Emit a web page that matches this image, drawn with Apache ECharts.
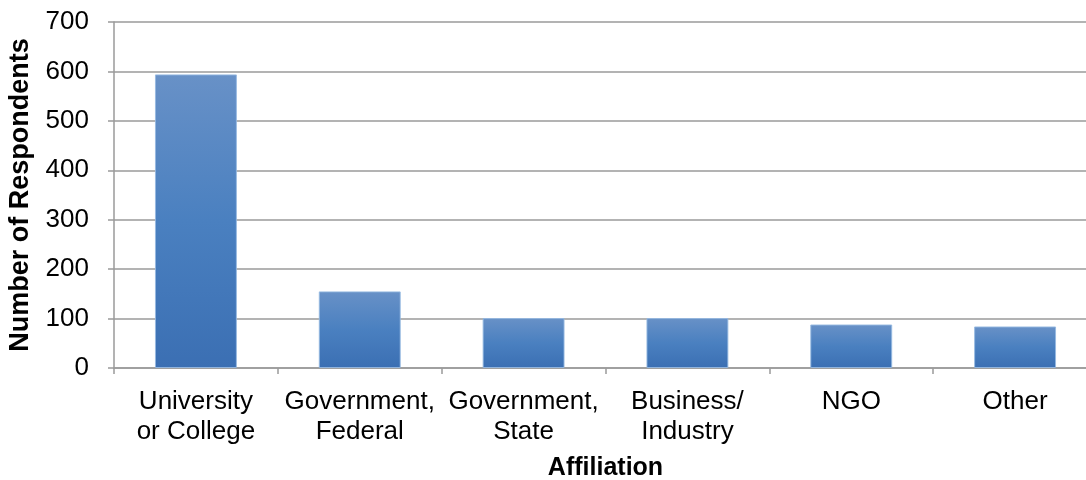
<!DOCTYPE html>
<html>
<head>
<meta charset="utf-8">
<script src="https://cdn.jsdelivr.net/npm/echarts@6/dist/echarts.min.js"></script>
<style>
  html, body { margin: 0; padding: 0; background: #fff; overflow: hidden; }
  #chart { width: 1100px; height: 480px; }
</style>
</head>
<body>
<div id="chart"></div>
<script>
// Survey respondents by affiliation
const categories = [
  'University\nor College',
  'Government,\nFederal',
  'Government,\nState',
  'Business/\nIndustry',
  'NGO',
  'Other'
];
const respondents = [594, 155, 101, 101, 88, 84];
const yTicks = { min: 0, max: 700, interval: 100 };

const chart = echarts.init(document.getElementById('chart'), null, { renderer: 'canvas' });

const font = 'Liberation Sans, Arial, Helvetica, sans-serif';
const gray = '#9a9a9a';

chart.setOption({
  animation: false,
  backgroundColor: '#ffffff',
  grid: {
    left: 114, top: 22, width: 983, bottom: 112,
    containLabel: false,
    outerBoundsMode: 'none'
  },
  xAxis: {
    type: 'category',
    data: categories,
    name: 'Affiliation',
    nameLocation: 'middle',
    nameGap: 88,
    nameTextStyle: { fontFamily: font, fontSize: 25, fontWeight: 'bold', color: '#000' },
    axisLine: { lineStyle: { color: gray, width: 1.5 } },
    axisTick: { show: true, length: 6, lineStyle: { color: gray, width: 1.5 } },
    axisLabel: {
      fontFamily: font, fontSize: 26, color: '#000', margin: 19,
      lineHeight: 30, interval: 0
    }
  },
  yAxis: {
    type: 'value',
    min: yTicks.min,
    max: yTicks.max,
    interval: yTicks.interval,
    name: 'Number of Respondents',
    nameLocation: 'middle',
    nameGap: 80,
    nameRotate: 90,
    nameTextStyle: { fontFamily: font, fontSize: 27, fontWeight: 'bold', color: '#000' },
    axisLine: { show: true, lineStyle: { color: gray, width: 1.5 } },
    axisTick: { show: true, length: 6, lineStyle: { color: gray, width: 1.5 } },
    axisLabel: { fontFamily: font, fontSize: 26, color: '#000', margin: 25 },
    splitLine: { show: true, lineStyle: { color: gray, width: 1.5 } }
  },
  series: [{
    type: 'bar',
    data: respondents,
    barCategoryGap: '50%',
    itemStyle: {
      color: new echarts.graphic.LinearGradient(0, 0, 0, 1, [
        { offset: 0, color: '#6891c7' },
        { offset: 0.5, color: '#4a80c0' },
        { offset: 1, color: '#3b6fb3' }
      ]),
      borderColor: 'rgba(150,185,225,0.9)',
      borderWidth: 1
    }
  }]
});
</script>
</body>
</html>
